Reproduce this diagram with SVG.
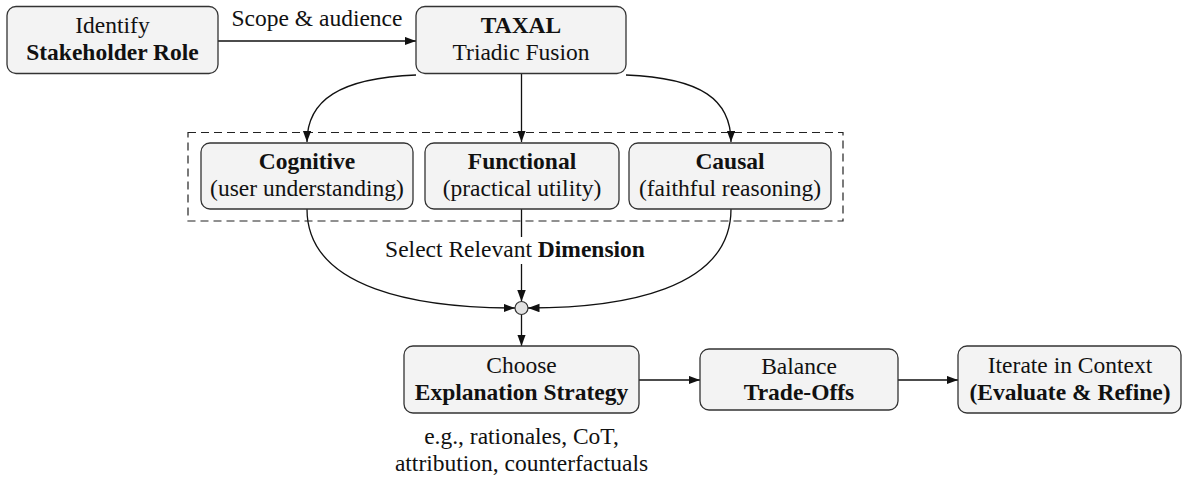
<svg xmlns="http://www.w3.org/2000/svg" width="1183" height="477" viewBox="0 0 1183 477">
<style>
.box{fill:#f3f3f3;stroke:#333;stroke-width:1.3}
.t{font-family:"Liberation Serif","Times New Roman",serif;font-size:23.5px;fill:#111;text-anchor:middle}
.b{font-weight:bold}
.c{fill:none;stroke:#111;stroke-width:1.3}
</style>
<defs>
<marker id="ah" markerUnits="userSpaceOnUse" markerWidth="12" markerHeight="9" refX="11.5" refY="4.25" orient="auto">
<path d="M0,0 L11.5,4.25 L0,8.5 z" fill="#111"/>
</marker>
</defs>
<rect x="188" y="132.5" width="655" height="88.5" fill="none" stroke="#222" stroke-width="1.2" stroke-dasharray="8,5"/>
<g id="connectors">
<path class="c" d="M218,41 L416,41" marker-end="url(#ah)"/>
<path class="c" d="M416,75 C340,78 307,100 307,142" marker-end="url(#ah)"/>
<path class="c" d="M521.5,73 L521.5,142" marker-end="url(#ah)"/>
<path class="c" d="M626,75 C702,78 731,100 731,142" marker-end="url(#ah)"/>
<path class="c" d="M307,209 C307,290 420,308 515,308" marker-end="url(#ah)"/>
<path class="c" d="M731,209 C731,290 622,308 528,308" marker-end="url(#ah)"/>
<path class="c" d="M521.5,209 L521.5,237"/>
<path class="c" d="M521.5,264 L521.5,301.5" marker-end="url(#ah)"/>
<path class="c" d="M521.5,314.5 L521.5,346" marker-end="url(#ah)"/>
<path class="c" d="M639,380 L700,380" marker-end="url(#ah)"/>
<path class="c" d="M898,380 L958,380" marker-end="url(#ah)"/>
<text class="t" x="317" y="26">Scope &amp; audience</text>
<text class="t" x="515" y="257">Select Relevant <tspan class="b">Dimension</tspan></text>
</g>
<g id="stakeholder">
<rect class="box" x="7" y="6.5" width="211" height="67" rx="9"/>
<text class="t" x="112.5" y="32.5">Identify</text>
<text class="t b" x="112.5" y="59.5">Stakeholder Role</text>
</g>
<g id="taxal">
<rect class="box" x="416" y="6.5" width="210" height="67" rx="9"/>
<text class="t b" x="521" y="32.5">TAXAL</text>
<text class="t" x="521" y="59.5">Triadic Fusion</text>
</g>
<g id="cognitive">
<rect class="box" x="201" y="143" width="212" height="66" rx="9"/>
<text class="t b" x="307" y="169">Cognitive</text>
<text class="t" x="307" y="195.5">(user understanding)</text>
</g>
<g id="functional">
<rect class="box" x="425" y="143" width="194" height="66" rx="9"/>
<text class="t b" x="522" y="169">Functional</text>
<text class="t" x="522" y="195.5">(practical utility)</text>
</g>
<g id="causal">
<rect class="box" x="629" y="143" width="202" height="66" rx="9"/>
<text class="t b" x="730" y="169">Causal</text>
<text class="t" x="730" y="195.5">(faithful reasoning)</text>
</g>
<g id="merge">
<circle cx="521.5" cy="308" r="6.5" fill="#e2e2e2" stroke="#333" stroke-width="1.2"/>
</g>
<g id="choose">
<rect class="box" x="404" y="346" width="235" height="67" rx="9"/>
<text class="t" x="521.5" y="372.5">Choose</text>
<text class="t b" x="521.5" y="399.5">Explanation Strategy</text>
<text class="t" x="521.5" y="444">e.g., rationales, CoT,</text>
<text class="t" x="521.5" y="471">attribution, counterfactuals</text>
</g>
<g id="balance">
<rect class="box" x="700" y="349" width="198" height="61" rx="9"/>
<text class="t" x="799" y="373.5">Balance</text>
<text class="t b" x="799" y="400">Trade-Offs</text>
</g>
<g id="iterate">
<rect class="box" x="958" y="346" width="223" height="67" rx="9"/>
<text class="t" x="1070" y="372.5">Iterate in Context</text>
<text class="t b" x="1070" y="399.5">(Evaluate &amp; Refine)</text>
</g>
</svg>
